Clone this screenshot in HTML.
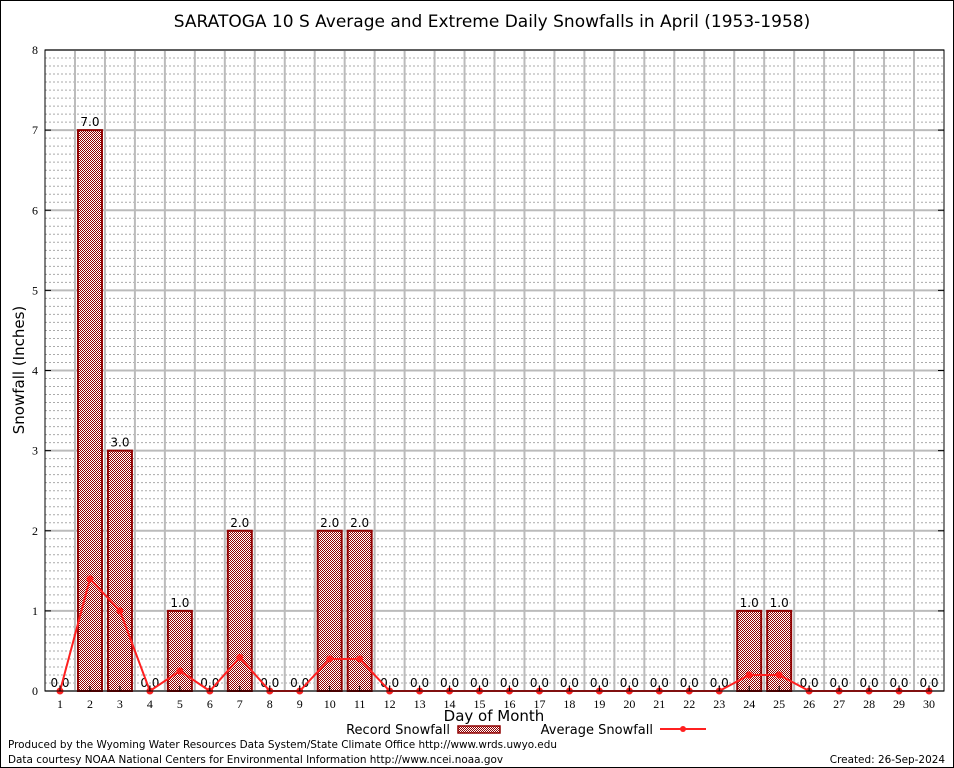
<!DOCTYPE html>
<html><head><meta charset="utf-8"><style>
body{margin:0;background:#fff;}
svg{display:block;font-family:"DejaVu Sans","Liberation Sans",sans-serif;}
</style></head><body>
<svg id="chart" width="954" height="768" xmlns="http://www.w3.org/2000/svg">
<defs>
<pattern id="hatch" width="2" height="2" patternUnits="userSpaceOnUse">
<rect width="2" height="2" fill="#fff"/>
<rect width="1" height="1" fill="#900000"/>
<rect x="1" y="1" width="1" height="1" fill="#900000"/>
</pattern>
</defs>
<rect x="0.5" y="0.5" width="953" height="767" fill="#fff" stroke="#000" stroke-width="1"/>
<text x="492" y="27" font-size="17" text-anchor="middle">SARATOGA 10 S Average and Extreme Daily Snowfalls in April (1953-1958)</text>
<g id="grid"></g>
<g id="bars"></g>
<g id="line"></g>
<g id="axes"></g>
<text x="24" y="370" font-size="15" text-anchor="middle" transform="rotate(-90 24 370)">Snowfall (Inches)</text>
<text x="494" y="721" font-size="15" text-anchor="middle">Day of Month</text>
<text x="450" y="734" font-size="13" text-anchor="end">Record Snowfall</text>
<rect x="458" y="726" width="42" height="7" fill="url(#hatch)" stroke="#900000" stroke-width="1.5"/>
<text x="653" y="734" font-size="13" text-anchor="end">Average Snowfall</text>
<line x1="660" y1="729" x2="706" y2="729" stroke="#ff2020" stroke-width="2"/>
<circle cx="683" cy="729" r="3" fill="#ff2020"/>
<text x="8" y="748" font-size="10.45">Produced by the Wyoming Water Resources Data System/State Climate Office http://www.wrds.uwyo.edu</text>
<text x="8" y="763" font-size="10.45">Data courtesy NOAA National Centers for Environmental Information http://www.ncei.noaa.gov</text>
<text x="945" y="763" font-size="10.45" text-anchor="end">Created: 26-Sep-2024</text>
</svg>
<script>
const days = [1,2,3,4,5,6,7,8,9,10,11,12,13,14,15,16,17,18,19,20,21,22,23,24,25,26,27,28,29,30];
const recordSnow = [0,7,3,0,1,0,2,0,0,2,2,0,0,0,0,0,0,0,0,0,0,0,0,1,1,0,0,0,0,0];
const avgSnow = [0,1.4,1.0,0,0.25,0,0.42,0,0,0.4,0.4,0,0,0,0,0,0,0,0,0,0,0,0,0.2,0.2,0,0,0,0,0];
const yTicks = [0,1,2,3,4,5,6,7,8];

const NS = 'http://www.w3.org/2000/svg';
const L = 45, R = 944, T = 50, B = 691;
const xS = d => 60 + (d - 1) * (929 - 60) / 29;
const yS = v => B - v * (B - T) / 8;
function mk(tag, attrs, parent) {
  const e = document.createElementNS(NS, tag);
  for (const k in attrs) e.setAttribute(k, attrs[k]);
  parent.appendChild(e);
  return e;
}
const grid = document.getElementById('grid');
const bars = document.getElementById('bars');
const line = document.getElementById('line');
const axes = document.getElementById('axes');

for (let i = 1; i < 80; i++) {
  if (i % 10 === 0) continue;
  const y = yS(i / 10);
  const g = mk('line', {x1: L, x2: R, y1: y, y2: y, stroke: '#aaa', 'stroke-width': 1, 'stroke-dasharray': '2,2'}, grid);
  
  
}
yTicks.forEach(v => {
  const y = yS(v);
  const g = mk('line', {x1: L, x2: R, y1: y, y2: y, stroke: '#bbb', 'stroke-width': 2}, grid);
  
  
  const tk = mk('line', {x1: L, x2: L + 6, y1: y, y2: y, stroke: '#000'}, axes);
  
  
  const tk2 = mk('line', {x1: R - 6, x2: R, y1: y, y2: y, stroke: '#000'}, axes);
  
  
  const t = mk('text', {x: 38, y: y + 4, 'font-size': 12, 'text-anchor': 'end', 'font-family': '"Liberation Serif",serif'}, axes);
  t.textContent = v;
  
  
});
for (let i = 1; i < days.length; i++) {
  const x = (xS(days[i - 1]) + xS(days[i])) / 2;
  const g = mk('line', {x1: x, x2: x, y1: T, y2: B, stroke: '#bbb', 'stroke-width': 2}, grid);
  
  
}
const bw = 24;
days.forEach((d, i) => {
  const x = xS(d), v = recordSnow[i];
  if (v > 0) {
    const r = mk('rect', {x: x - bw / 2, y: yS(v), width: bw, height: B - yS(v), fill: 'url(#hatch)', stroke: '#900000', 'stroke-width': 2}, bars);
    
    
  }
  const t = mk('text', {x: x, y: yS(v) - 4, 'font-size': 12, 'text-anchor': 'middle'}, bars);
  t.textContent = v.toFixed(1);
  
  
  const xl = mk('text', {x: x, y: 708, 'font-size': 12, 'text-anchor': 'middle', 'font-family': '"Liberation Serif",serif'}, axes);
  xl.textContent = d;
  
  
  const xt = mk('line', {x1: x, x2: x, y1: B, y2: B - 5, stroke: '#000'}, axes);
  
  
});
const pts = days.map((d, i) => xS(d) + ',' + yS(avgSnow[i])).join(' ');
const pl = mk('polyline', {points: pts, fill: 'none', stroke: '#ff2020', 'stroke-width': 2}, line);


days.forEach((d, i) => {
  const c = mk('circle', {cx: xS(d), cy: yS(avgSnow[i]), r: 3.5, fill: '#ff2020'}, line);
  
  
});
const fr = mk('rect', {x: L, y: T, width: R - L, height: B - T, fill: 'none', stroke: '#000', 'stroke-width': 1}, axes);


</script>
</body></html>
